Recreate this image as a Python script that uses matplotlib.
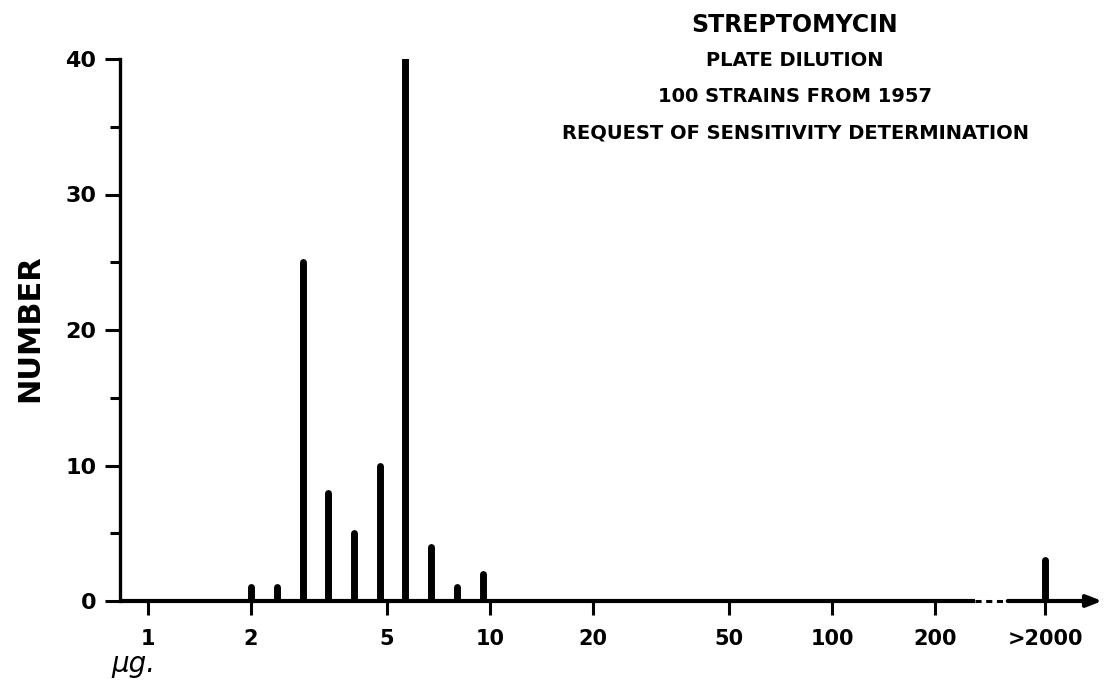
import numpy as np
import matplotlib
matplotlib.use('Agg')
import matplotlib.pyplot as plt

# streptomycin MIC (ug), plate dilution, 100 strains
doses = [2.0, 2.38, 2.83, 3.36, 4.0, 4.76, 5.66, 6.73, 8.0, 9.51]
counts = [1, 1, 25, 8, 5, 10, 40, 4, 1, 2]
resist_label = '>2000'
resist_count = 3

xticks = [1, 2, 5, 10, 20, 50, 100, 200]
xticklabels = ['1', '2', '5', '10', '20', '50', '100', '200']
yticks = [0, 10, 20, 30, 40]
title_lines = ['STREPTOMYCIN', 'PLATE DILUTION', '100 STRAINS FROM 1957',
               'REQUEST OF SENSITIVITY DETERMINATION']

plt.rcParams['font.family'] = 'DejaVu Sans'
plt.rcParams['font.weight'] = 'bold'

fig = plt.figure(figsize=(11.14, 6.88), dpi=100)
W, H = 1114, 688
ax = fig.add_axes([120 / W, (688 - 601) / H, (1105 - 120) / W, (601 - 59) / H])

ax.set_xscale('log')
x_left = 10 ** ((120 - 148) / 342)
x_right = 10 ** ((1105 - 148) / 342)
x_resist = 10 ** ((1045 - 148) / 342)   # display slot for the >2000 group
x_break0 = 10 ** ((975 - 148) / 342)
x_break1 = 10 ** ((1005 - 148) / 342)
ax.set_xlim(x_left, x_right)
ax.set_ylim(0, 40)

# bars as thick vertical strokes
ax.vlines(doses, 0, counts, colors='black', linewidth=5, capstyle='round')
ax.vlines([x_resist], 0, [resist_count], colors='black', linewidth=5, capstyle='round')

# spines
for s in ['top', 'right', 'bottom']:
    ax.spines[s].set_visible(False)
ax.spines['left'].set_linewidth(2.4)

# x axis drawn by hand: solid, broken, solid + arrow
ax.plot([x_left, x_break0], [0, 0], color='black', lw=3, clip_on=False, solid_capstyle='butt')
ax.plot([x_break0, x_break1], [0, 0], color='black', lw=2.2, ls=(0, (2, 1.5)), clip_on=False)
ax.annotate('', xy=(x_right, 0), xytext=(x_break1, 0),
            arrowprops=dict(arrowstyle='-|>,head_length=0.9,head_width=0.35', color='black', lw=3),
            annotation_clip=False)

ax.set_xticks(xticks + [x_resist])
ax.set_xticklabels(xticklabels + [resist_label])
ax.xaxis.set_minor_locator(matplotlib.ticker.NullLocator())
ax.tick_params(axis='x', direction='out', length=10, width=2.2, labelsize=15, pad=10)

ax.set_yticks(yticks)
ax.set_yticks([5, 15, 25, 35], minor=True)
ax.tick_params(axis='y', which='major', direction='out', length=11, width=2.2, labelsize=16, pad=6)
ax.tick_params(axis='y', which='minor', direction='out', length=7, width=2.2)

fig.text(30 / W, 1 - 328 / H, 'NUMBER', rotation=90, ha='center', va='center',
         fontsize=22, fontweight='bold')
fig.text(133 / W, 1 - 664 / H, 'μg.', ha='center', va='center',
         fontsize=20, fontstyle='italic', fontweight='normal')

sizes = [17, 14, 14, 14]
ys = [25, 61, 97, 133]
for t, sz, yy in zip(title_lines, sizes, ys):
    fig.text(795 / W, 1 - yy / H, t, ha='center', va='center', fontsize=sz, fontweight='bold')

fig.savefig('out.png', dpi=100)
